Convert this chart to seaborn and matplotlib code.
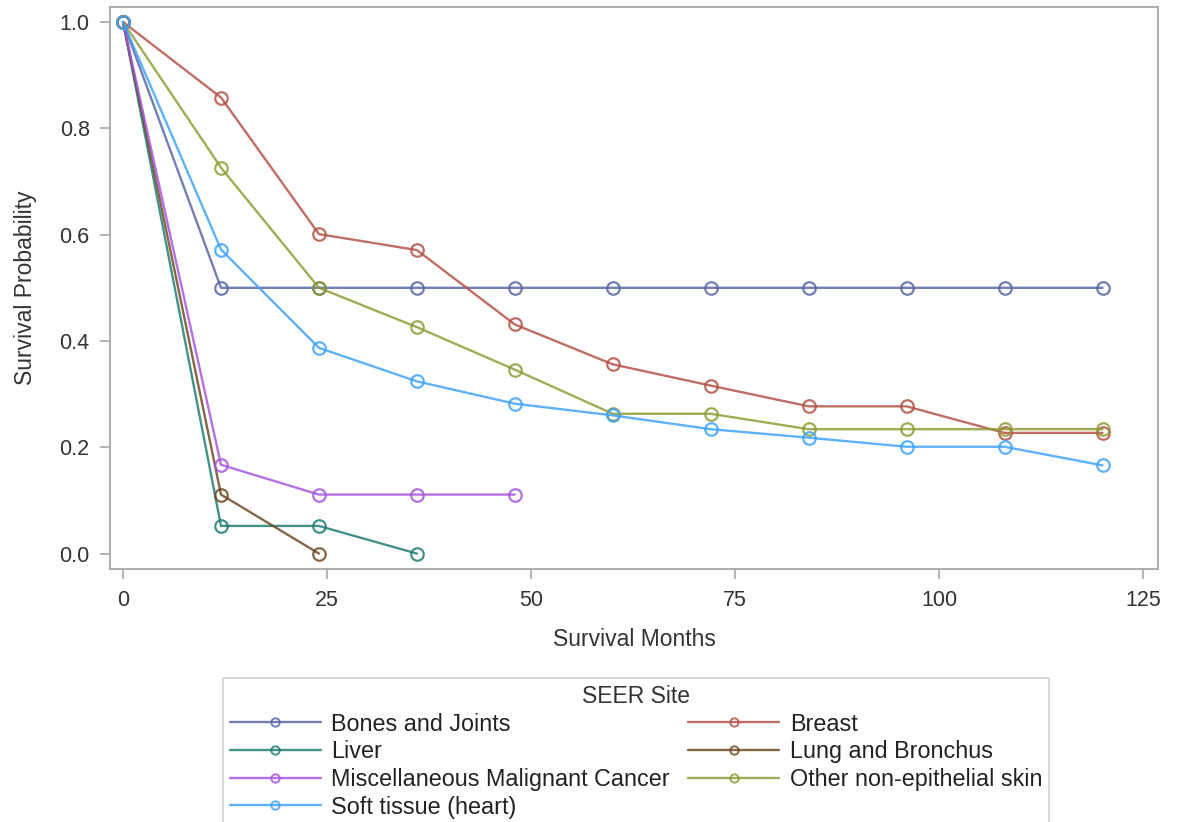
import matplotlib
matplotlib.use("Agg")
import matplotlib.pyplot as plt
import pandas as pd
import seaborn as sns
from matplotlib.lines import Line2D

# ---- data ----
months = [0, 12, 24, 36, 48, 60, 72, 84, 96, 108, 120]
sites = ["Bones and Joints", "Breast", "Liver", "Lung and Bronchus",
         "Miscellaneous Malignant Cancer", "Other non-epithelial skin",
         "Soft tissue (heart)"]
bones = [1.0, 0.5, 0.5, 0.5, 0.5, 0.5, 0.5, 0.5, 0.5, 0.5, 0.5]
breast = [1.0, 0.858, 0.601, 0.571, 0.431, 0.356, 0.316, 0.277, 0.277, 0.227, 0.227]
liver = [1.0, 0.052, 0.052, 0.0]
lung = [1.0, 0.111, 0.0]
misc = [1.0, 0.167, 0.111, 0.111, 0.111]
other = [1.0, 0.726, 0.50, 0.426, 0.346, 0.263, 0.263, 0.234, 0.234, 0.234, 0.234]
soft = [1.0, 0.572, 0.387, 0.324, 0.282, 0.260, 0.234, 0.218, 0.201, 0.201, 0.166]
series = [bones, breast, liver, lung, misc, other, soft]
colors = ["#5563a0", "#b04e42", "#1a7a70", "#6a4520", "#a650e0", "#8c9a30", "#3aa0fa"]

rows = []
for name, vals in zip(sites, series):
    for m, v in zip(months, vals):
        rows.append({"SEER Site": name, "Survival Months": m, "Survival Probability": v})
df = pd.DataFrame(rows)

sns.set_theme(style="white")
plt.rcParams["font.family"] = ["Liberation Sans", "DejaVu Sans"]

fig = plt.figure(figsize=(11.77, 8.22), dpi=100)
ax = fig.add_axes([0.09346, 0.3078, 0.8904, 0.6833])

palette = dict(zip(sites, colors))
sns.lineplot(data=df, x="Survival Months", y="Survival Probability",
             hue="SEER Site", hue_order=sites, palette=palette,
             marker="o", markersize=9, linewidth=1.7, errorbar=None,
             legend=False, ax=ax)

for line, c in zip(ax.get_lines(), colors):
    line.set_color(c)
    line.set_markerfacecolor("none")
    line.set_markeredgecolor(c)
    line.set_markeredgewidth(1.6)
    line.set_alpha(0.82)

ax.set_xlim(-1.6, 126.8)
ax.set_ylim(-0.029, 1.0277)
ax.set_xticks([0, 25, 50, 75, 100, 125])
ax.set_yticks([0.0, 0.2, 0.4, 0.6, 0.8, 1.0])
ax.set_yticklabels(["0.0", "0.2", "0.4", "0.6", "0.8", "1.0"])

for sp in ax.spines.values():
    sp.set_color("#a8a8a8")
    sp.set_linewidth(1.3)

ax.tick_params(axis="both", direction="out", length=7, width=1.2,
               color="#a8a8a8", labelcolor="#333333", labelsize=15.5,
               left=True, bottom=True)
ax.tick_params(axis="x", pad=8.3)
ax.tick_params(axis="y", pad=7.6)
ax.set_xlabel("Survival Months", fontsize=16.5, color="#333333", labelpad=12)
ax.set_ylabel("Survival Probability", fontsize=16.5, color="#333333", labelpad=16)

# legend, row-wise order like the reference
order = [0, 2, 4, 6, 1, 3, 5]
handles = [Line2D([0], [0], color=colors[i], lw=1.7, marker="o", markersize=6,
                  markerfacecolor="none", markeredgecolor=colors[i], mew=1.4,
                  alpha=0.82) for i in order]
labels = [sites[i] for i in order]
leg = fig.legend(handles, labels, title="SEER Site", ncol=2,
                 loc="upper center", bbox_to_anchor=(0.5404, 0.1752),
                 fontsize=16.8, title_fontsize=16.5, frameon=True, fancybox=False,
                 edgecolor="#c8c8c8", handlelength=3.9, handletextpad=0.45,
                 columnspacing=0.8, labelspacing=0.2, borderpad=0.3,
                 borderaxespad=0)
leg.get_frame().set_linewidth(1.2)
for t in leg.get_texts():
    t.set_color("#222222")
leg.get_title().set_color("#333333")

fig.savefig("out.png", dpi=100)
